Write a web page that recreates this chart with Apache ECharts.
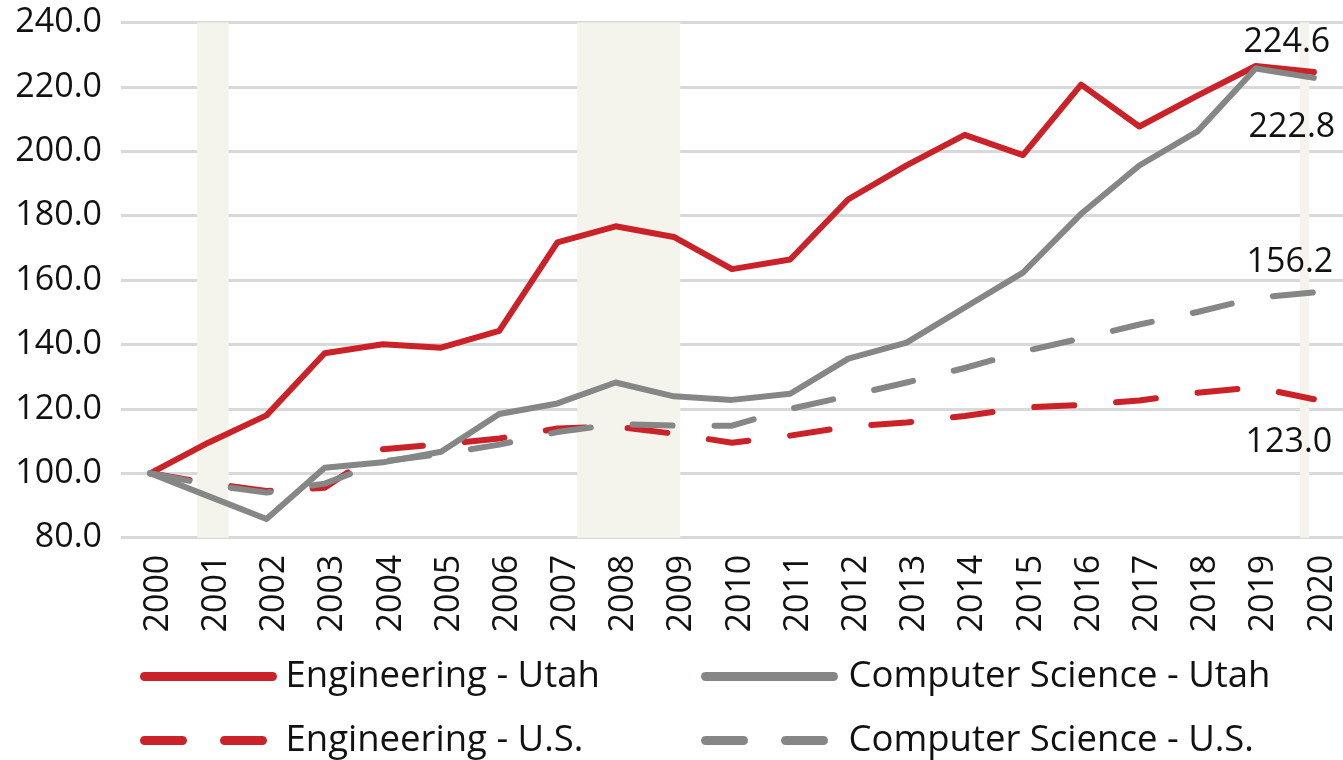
<!DOCTYPE html>
<html>
<head>
    <meta charset="utf-8">
    <title>Engineering and Computer Science - Utah vs U.S.</title>
    <script src="https://cdn.jsdelivr.net/npm/echarts@6/dist/echarts.min.js"></script>
</head>
<body style="margin:0">
    <div id="main" style="width:1343px;height:760px;"></div>
    <script type="text/javascript">
        // years on the category axis
        var years = ['2000', '2001', '2002', '2003', '2004', '2005', '2006', '2007', '2008', '2009', '2010',
                     '2011', '2012', '2013', '2014', '2015', '2016', '2017', '2018', '2019', '2020'];

        // index, 2000 = 100
        var engUtah = [100.0, 109.5, 118.0, 137.3, 140.1, 139.0, 144.2, 171.7, 176.7, 173.4, 163.4,
                       166.4, 185.1, 195.6, 205.1, 198.8, 220.7, 207.7, 217.3, 226.5, 224.6];
        var engUS   = [100.0, 97.0, 94.5, 95.5, 107.5, 109.0, 110.8, 113.9, 114.5, 112.3, 109.5,
                       111.7, 114.5, 115.8, 117.8, 120.4, 121.2, 122.6, 125.0, 126.7, 123.0];
        var csUtah  = [100.0, 92.9, 85.8, 101.7, 103.4, 106.7, 118.4, 121.7, 128.2, 123.9, 122.8,
                       124.7, 135.6, 140.6, 151.5, 162.3, 180.6, 195.6, 206.2, 225.7, 222.8];
        var csUS    = [100.0, 96.5, 94.0, 96.8, 103.7, 106.0, 108.9, 112.8, 115.3, 114.8, 114.8,
                       120.0, 124.0, 128.2, 132.7, 137.8, 141.9, 146.2, 150.1, 154.5, 156.2];

        // recession shading, in fractional years
        var recessions = [[2000.81, 2001.35], [2007.34, 2009.11], [2019.76, 2019.92]];

        var RED = '#cb2129';
        var GRAY = '#858786';
        var FONT = 'Open Sans';

        var chart = echarts.init(document.getElementById('main'));

        // value label at the end of each line
        function endLabel(offset) {
            return {
                show: true,
                distance: 0,
                align: 'center',
                verticalAlign: 'middle',
                offset: offset,
                fontFamily: FONT,
                fontSize: 34,
                color: '#111',
                formatter: function (p) { return p.value.toFixed(1); }
            };
        }

        function lineSeries(name, data, color, dashed, label) {
            return {
                name: name,
                type: 'line',
                data: data,
                symbol: 'none',
                z: 3,
                lineStyle: {
                    color: color,
                    width: 6,
                    type: dashed ? [40, 42] : 'solid',
                    cap: 'round',
                    join: 'round'
                },
                itemStyle: { color: color },
                endLabel: label
            };
        }

        function legendColumn(left, textPad, names) {
            return {
                orient: 'vertical',
                left: left,
                top: 658,
                padding: 0,
                itemWidth: 128,
                itemHeight: 20,
                itemGap: 27,
                itemStyle: { opacity: 0 },   // hide the circle marker on the line icon
                lineStyle: { width: 9, cap: 'round' },
                textStyle: {
                    fontFamily: FONT,
                    fontSize: 36.5,
                    color: '#111',
                    lineHeight: 36,
                    padding: [0, 0, 0, textPad]
                },
                data: [
                    { name: names[0] },
                    { name: names[1], lineStyle: { type: [38, 42], width: 9, cap: 'round' } }
                ]
            };
        }

        var option = {
            animation: false,
            backgroundColor: '#fff',
            grid: { left: 121, top: 22.5, width: 1228, height: 515.2 },
            legend: [
                legendColumn(140, 8, ['Engineering - Utah', 'Engineering - U.S.']),
                legendColumn(701, 10, ['Computer Science - Utah', 'Computer Science - U.S.'])
            ],
            xAxis: [
                {
                    type: 'category',
                    data: years,
                    boundaryGap: true,
                    axisLine: { show: false },
                    axisTick: { show: false },
                    axisLabel: {
                        rotate: 90,
                        margin: 17,
                        interval: 0,
                        verticalAlign: 'top',
                        lineHeight: 16,
                        fontFamily: FONT,
                        fontSize: 34,
                        color: '#111'
                    }
                },
                {
                    // hidden helper axis for the shaded bands
                    type: 'value',
                    min: 1999.5,
                    max: 2020.5,
                    show: false
                }
            ],
            yAxis: {
                type: 'value',
                min: 80,
                max: 240,
                interval: 20,
                axisLine: { show: false },
                axisTick: { show: false },
                splitLine: { lineStyle: { color: '#d9d9d9', width: 3 } },
                axisLabel: {
                    margin: 19,
                    fontFamily: FONT,
                    fontSize: 34,
                    color: '#111',
                    formatter: function (v) { return v.toFixed(1); }
                }
            },
            series: [
                {
                    name: 'bands',
                    type: 'line',
                    xAxisIndex: 1,
                    data: [],
                    silent: true,
                    z: 1,
                    markArea: {
                        silent: true,
                        itemStyle: { color: '#f4f4ec' },
                        data: recessions.map(function (r) {
                            return [{ xAxis: r[0] }, { xAxis: r[1] }];
                        })
                    }
                },
                lineSeries('Engineering - Utah', engUtah, RED, false, endLabel([-27, -30])),
                lineSeries('Engineering - U.S.', engUS, RED, true, endLabel([-25, 43])),
                lineSeries('Computer Science - Utah', csUtah, GRAY, false, endLabel([-22, 49])),
                lineSeries('Computer Science - U.S.', csUS, GRAY, true, endLabel([-24, -30]))
            ]
        };

        chart.setOption(option);
    </script>
</body>
</html>
